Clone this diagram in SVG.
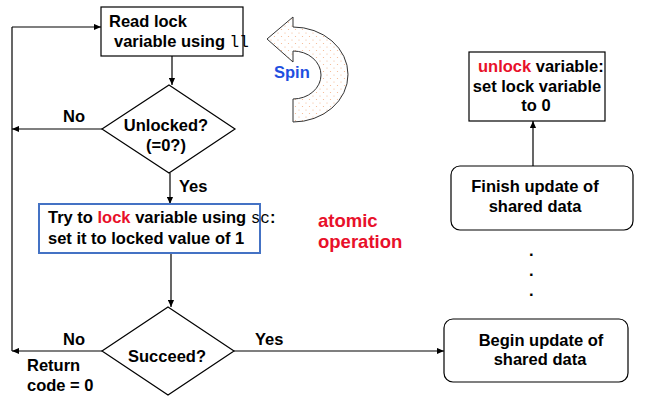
<svg xmlns="http://www.w3.org/2000/svg" width="645" height="402" viewBox="0 0 645 402">
<style>
.t{font-family:"Liberation Sans",Arial,sans-serif;font-weight:bold;font-size:16.5px;fill:#000}
.m{font-family:"Liberation Mono","Courier New",monospace;font-weight:normal;font-size:16px}
.red{fill:#E8102A}
.box{fill:#fff;stroke:#000;stroke-width:1.2}
.ln{fill:none;stroke:#000;stroke-width:1.2}
</style>
<defs>
<marker id="ah" viewBox="0 0 8 8" refX="8" refY="4" markerWidth="7" markerHeight="7" markerUnits="userSpaceOnUse" orient="auto">
<path d="M0,0.5 L8,4 L0,7.5 Z" fill="#000"/>
</marker>
<pattern id="dots" width="7" height="7" patternUnits="userSpaceOnUse">
<rect width="7" height="7" fill="#fff"/>
<circle cx="1.5" cy="1.5" r="0.6" fill="#F5B58C"/>
<circle cx="5" cy="5" r="0.6" fill="#F5B58C"/>
</pattern>
</defs>
<rect width="645" height="402" fill="#fff"/>

<g id="connectors">
<line class="ln" x1="172" y1="56" x2="172" y2="85" marker-end="url(#ah)"/>
<line class="ln" x1="102" y1="129" x2="12" y2="129" marker-end="url(#ah)"/>
<line class="ln" x1="170" y1="173" x2="170" y2="204" marker-end="url(#ah)"/>
<line class="ln" x1="171" y1="253" x2="171" y2="307" marker-end="url(#ah)"/>
<line class="ln" x1="102" y1="351" x2="12" y2="351" marker-end="url(#ah)"/>
<line class="ln" x1="12" y1="351" x2="12" y2="27"/>
<line class="ln" x1="12" y1="27" x2="101" y2="27" marker-end="url(#ah)"/>
<line class="ln" x1="234" y1="351" x2="444" y2="351" marker-end="url(#ah)"/>
<line class="ln" x1="533" y1="166" x2="533" y2="121" marker-end="url(#ah)"/>
</g>

<g id="read">
<rect class="box" x="101" y="7" width="142" height="49"/>
<text class="t" x="109" y="27">Read lock</text>
<text class="t" x="114" y="47">variable using <tspan class="m">ll</tspan></text>
</g>

<g id="spin">
<path d="M267,39 L293,17 L293,27 A55,47.5 0 0 1 293,122 L293,99 A28,24 0 0 0 293,51 L293,62 Z" fill="url(#dots)" stroke="#333" stroke-width="1"/>
<text class="t" x="274" y="78" style="fill:#1F4FE0">Spin</text>
</g>

<g id="unlocked">
<polygon class="box" points="169,85 235,129 169,173 102,129"/>
<text class="t" x="166" y="131" text-anchor="middle">Unlocked?</text>
<text class="t" x="166" y="151" text-anchor="middle">(=0?)</text>
</g>

<g id="labels">
<text class="t" x="63" y="122">No</text>
<text class="t" x="179" y="192">Yes</text>
<text class="t" x="63" y="345">No</text>
<text class="t" x="255" y="345">Yes</text>
<text class="t" x="27" y="371">Return</text>
<text class="t" x="27" y="391">code = 0</text>
<text class="t red" x="318" y="227" style="font-size:18.5px">atomic</text>
<text class="t red" x="318" y="248" style="font-size:18.5px">operation</text>
<text class="t" x="529" y="256">.</text>
<text class="t" x="529" y="276">.</text>
<text class="t" x="529" y="296">.</text>
</g>

<g id="trylock">
<rect x="39" y="204" width="221" height="49" fill="#fff" stroke="#4472C4" stroke-width="2"/>
<text class="t" x="48" y="223">Try to <tspan class="red">lock</tspan> variable using <tspan class="m">sc</tspan>:</text>
<text class="t" x="48" y="244">set it to locked value of 1</text>
</g>

<g id="succeed">
<polygon class="box" points="168,307 234,351 168,395 102,351"/>
<text class="t" x="167" y="362" text-anchor="middle">Succeed?</text>
</g>

<g id="begin">
<rect class="box" x="444" y="319" width="184" height="63" rx="9"/>
<text class="t" x="541" y="346" text-anchor="middle">Begin update of</text>
<text class="t" x="540" y="365" text-anchor="middle">shared data</text>
</g>

<g id="finish">
<rect class="box" x="451" y="166" width="182" height="64" rx="9"/>
<text class="t" x="535" y="192" text-anchor="middle">Finish update of</text>
<text class="t" x="535" y="212" text-anchor="middle">shared data</text>
</g>

<g id="unlock">
<rect class="box" x="469" y="52" width="136" height="69"/>
<text class="t" x="478" y="72"><tspan class="red">unlock</tspan> variable:</text>
<text class="t" x="537" y="92" text-anchor="middle">set lock variable</text>
<text class="t" x="536" y="111" text-anchor="middle">to 0</text>
</g>
</svg>
